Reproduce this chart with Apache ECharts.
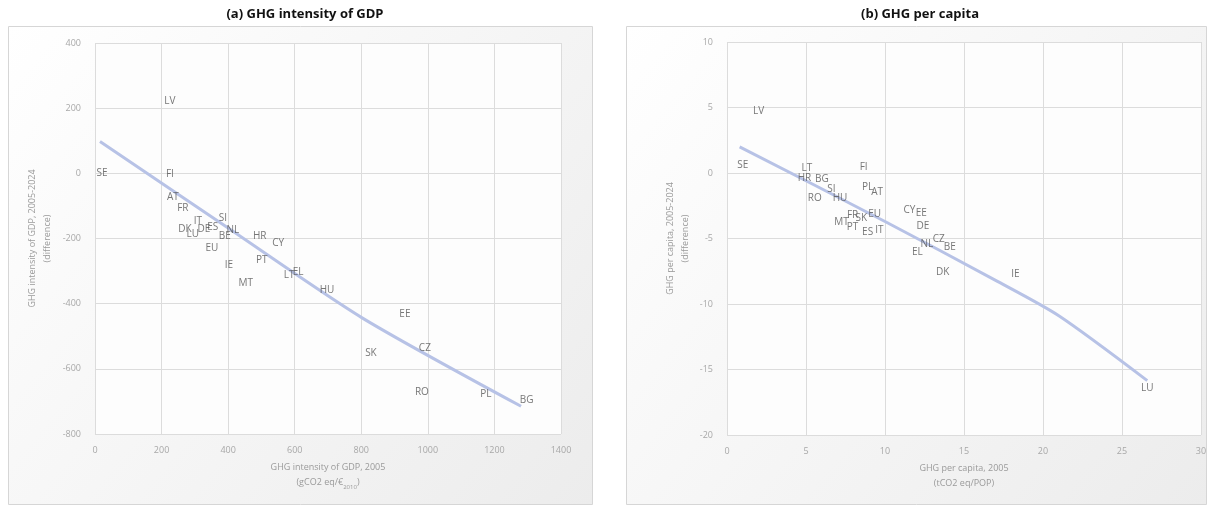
<!DOCTYPE html>
<html>
<head>
<meta charset="utf-8">
<script src="https://cdn.jsdelivr.net/npm/echarts@6/dist/echarts.min.js"></script>
<style>
html,body{margin:0;padding:0;background:#fff;}
#c{width:1213px;height:508px;}
</style>
</head>
<body>
<div id="c"></div>
<script>
// Panel (a): GHG intensity of GDP
const aCodes = ['LV','SE','FI','AT','FR','IT','SI','DK','LU','DE','ES','NL','BE','EU','HR','CY','PT','IE','MT','LT','EL','HU','EE','SK','CZ','RO','PL','BG'];
const aX = [225,21,225,234,264,309,384,270,294,327,354,414,390,351,495,550,501,402,453,583,610,697,931,829,991,982,1174,1297];
const aY = [222,0,-3,-74,-108,-148,-138,-172,-188,-172,-166,-175,-194,-231,-194,-215,-265,-283,-338,-314,-302,-360,-431,-551,-538,-671,-677,-695];
const aTrendX = [15,400,800,1280];
const aTrendY = [98,-168,-442,-715];

// Panel (b): GHG per capita
const bCodes = ['LV','SE','LT','FI','HR','BG','SI','RO','HU','PL','AT','MT','FR','SK','PT','EU','ES','IT','CY','EE','DE','NL','CZ','BE','EL','DK','IE','LU'];
const bX = [2.0,1.0,5.05,8.65,4.9,6.0,6.6,5.55,7.15,8.9,9.5,7.25,7.95,8.5,7.95,9.35,8.9,9.65,11.55,12.3,12.4,12.65,13.4,14.1,12.05,13.65,18.25,26.6];
const bY = [4.7,0.6,0.4,0.45,-0.4,-0.45,-1.2,-1.9,-1.9,-1.05,-1.45,-3.75,-3.2,-3.45,-4.1,-3.15,-4.5,-4.35,-2.8,-3.05,-4.05,-5.4,-5.05,-5.65,-6.05,-7.55,-7.7,-16.4];
const bTrendX = [0.8,10,17,21,26.6];
const bTrendY = [2.0,-3.7,-8.2,-10.9,-15.85];

const FONT = '"Open Sans","Liberation Sans",sans-serif';
const chart = echarts.init(document.getElementById('c'), null, {renderer:'canvas'});

function pts(codes, xs, ys){ return codes.map((c,i)=>({name:c, value:[xs[i], ys[i]]})); }
function line(xs, ys){ return xs.map((x,i)=>[x, ys[i]]); }

const frameFill = new echarts.graphic.LinearGradient(0,0,1,1,[{offset:0,color:'#ffffff'},{offset:1,color:'#ececec'}]);
const gridLine = {show:true, lineStyle:{color:'#dcdcdc', width:1}};
const axisLbl = {color:'#a8a8a8', fontSize:9, fontFamily:FONT, formatter:(v)=>String(v)};
const nameStyle = {color:'#9a9a9a', fontSize:9, fontFamily:FONT, lineHeight:15, rich:{sub:{fontSize:6, verticalAlign:'bottom', color:'#9a9a9a', fontFamily:FONT, padding:[6,0,0,0]}}};

function xAxis(gi, min, max, interval, name){
  return {type:'value', gridIndex:gi, min, max, interval, name, nameLocation:'middle', nameGap:24,
    nameTextStyle:nameStyle, axisLine:{show:false}, axisTick:{show:false},
    axisLabel:Object.assign({margin:12}, axisLbl), splitLine:gridLine};
}
function yAxis(gi, min, max, interval, name, gap){
  return {type:'value', gridIndex:gi, min, max, interval, name, nameLocation:'middle', nameGap:gap,
    nameTextStyle:nameStyle, axisLine:{show:false}, axisTick:{show:false},
    axisLabel:Object.assign({margin:14}, axisLbl), splitLine:gridLine};
}
function labels(gi, data){
  return {type:'scatter', xAxisIndex:gi, yAxisIndex:gi, data, symbolSize:1, itemStyle:{color:'rgba(0,0,0,0)'},
    label:{show:true, position:'inside', formatter:'{b}', color:'#555555', fontSize:10, fontFamily:FONT}, z:5, silent:true};
}
function trend(gi, data){
  return {type:'line', xAxisIndex:gi, yAxisIndex:gi, data, smooth:0.25, showSymbol:false,
    lineStyle:{color:'#b7c2e6', width:3}, z:3, silent:true};
}

chart.setOption({
  animation:false,
  backgroundColor:'#ffffff',
  title:[
    {text:'(a) GHG intensity of GDP', left:300, top:3, textAlign:'center', textStyle:{fontSize:13, fontWeight:'bold', color:'#111', fontFamily:FONT}},
    {text:'(b) GHG per capita', left:915, top:3, textAlign:'center', textStyle:{fontSize:13, fontWeight:'bold', color:'#111', fontFamily:FONT}}
  ],
  graphic:[
    {type:'rect', shape:{x:8.5, y:26.5, width:584, height:478}, style:{fill:frameFill, stroke:'#d6d6d6', lineWidth:1}, z:-10},
    {type:'rect', shape:{x:626.5, y:26.5, width:580, height:478}, style:{fill:frameFill, stroke:'#d6d6d6', lineWidth:1}, z:-10},
    {type:'rect', shape:{x:95, y:43, width:466, height:391}, style:{fill:'#fdfdfd'}, z:-9},
    {type:'rect', shape:{x:727, y:42, width:474, height:393}, style:{fill:'#fdfdfd'}, z:-9}
  ],
  grid:[
    {left:95, top:43, width:466, height:391},
    {left:727, top:42, width:474, height:393}
  ],
  xAxis:[
    xAxis(0, 0, 1400, 200, 'GHG intensity of GDP, 2005\n(gCO2 eq/€{sub|2010})'),
    xAxis(1, 0, 30, 5, 'GHG per capita, 2005\n(tCO2 eq/POP)')
  ],
  yAxis:[
    yAxis(0, -800, 400, 200, 'GHG intensity of GDP, 2005-2024\n(difference)', 40),
    yAxis(1, -20, 10, 5, 'GHG per capita, 2005-2024\n(difference)', 34)
  ],
  series:[
    trend(0, line(aTrendX, aTrendY)),
    labels(0, pts(aCodes, aX, aY)),
    trend(1, line(bTrendX, bTrendY)),
    labels(1, pts(bCodes, bX, bY))
  ]
});
</script>
</body>
</html>
